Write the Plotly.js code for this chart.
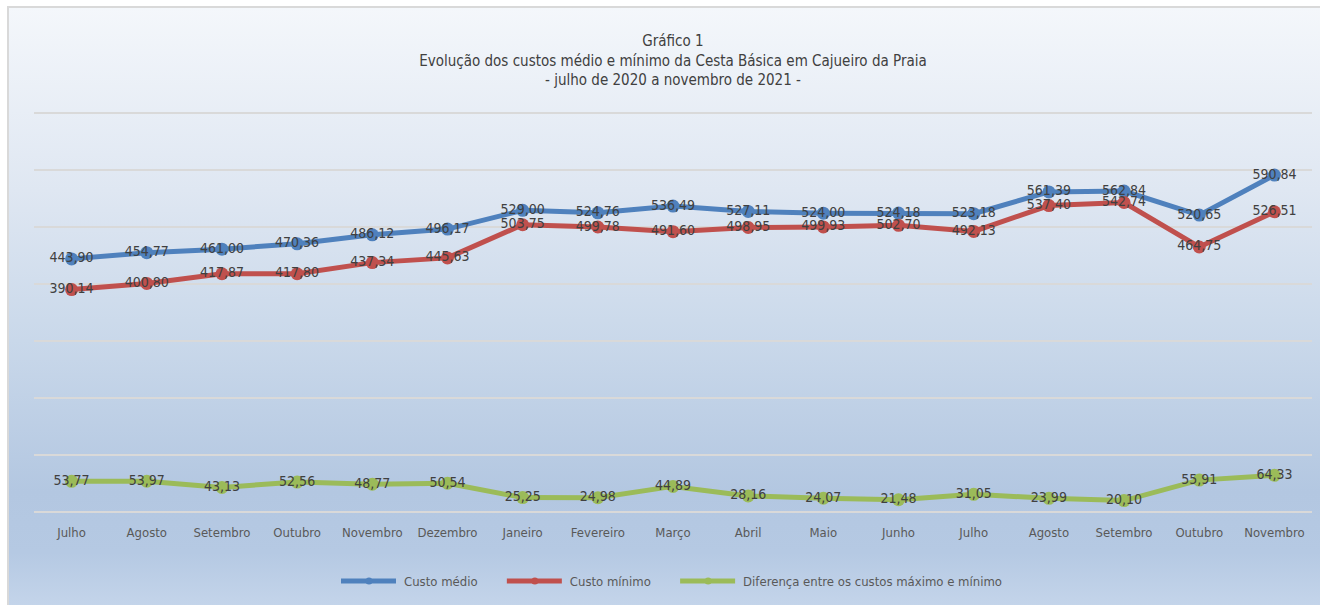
<!DOCTYPE html>
<html>
<head>
<meta charset="utf-8">
<script src="https://cdn.plot.ly/plotly-3.0.1.min.js"></script>
<style>
  html, body { margin: 0; padding: 0; background: #ffffff; width: 1320px; height: 605px; overflow: hidden; }
  #wrap {
    position: absolute; left: 7px; top: 6px; width: 1313px; height: 605px;
    border-left: 2px solid #d9d9d9; border-top: 2px solid #d9d9d9;
    background: linear-gradient(to bottom, #f4f7fb 0%, #dfe7f2 30%, #c9d8ea 55%, #b3c7e1 80%, #b5c9e3 90%, #c6d6eb 100%);
  }
  #chart { width: 1311px; height: 603px; }
</style>
</head>
<body>
<div id="wrap"><div id="chart"></div></div>
<script>
const meses = ["Julho","Agosto","Setembro","Outubro","Novembro","Dezembro","Janeiro","Fevereiro","Março","Abril","Maio","Junho","Julho","Agosto","Setembro","Outubro","Novembro"];
const custoMedio = [443.90,454.77,461.00,470.36,486.12,496.17,529.00,524.76,536.49,527.11,524.00,524.18,523.18,561.39,562.84,520.65,590.84];
const custoMinimo = [390.14,400.80,417.87,417.80,437.34,445.63,503.75,499.78,491.60,498.95,499.93,502.70,492.13,537.40,542.74,464.75,526.51];
const diferenca = [53.77,53.97,43.13,52.56,48.77,50.54,25.25,24.98,44.89,28.16,24.07,21.48,31.05,23.99,20.10,55.91,64.33];
const nomes = ['Custo médio', 'Custo mínimo', 'Diferença entre os custos máximo e mínimo'];
const cores = ['#4f81bd', '#c0504d', '#9bbb59'];

const xIdx = meses.map((_, i) => i);
const fmt = v => v.toFixed(2).replace('.', ',');
const FONT = '"DejaVu Sans Condensed", "Liberation Sans Narrow", sans-serif';
const PAD = '\u00a0\u00a0\u00a0\u00a0\u00a0\u00a0';

function serie(name, y, color) {
  return {
    type: 'scatter', mode: 'lines+markers+text', name: name,
    x: xIdx, y: y,
    text: y.map(fmt), textposition: 'middle center',
    textfont: { family: FONT, size: 14, color: '#404040' },
    line: { color: color, width: 5 },
    marker: { color: color, size: 13 },
    cliponaxis: false, showlegend: false,
    hoverinfo: 'skip'
  };
}
function legendItem(name, color) {
  return {
    type: 'scatter', mode: 'lines+markers', name: name,
    x: [null], y: [null],
    line: { color: color, width: 5 },
    marker: { color: color, size: 7 },
    showlegend: true, hoverinfo: 'skip'
  };
}

const series = [custoMedio, custoMinimo, diferenca];
const data = series.map((s, i) => serie(nomes[i], s, cores[i]))
  .concat(nomes.map((n, i) => legendItem(i < 2 ? n + PAD : n, cores[i])));

const layout = {
  width: 1311, height: 603,
  paper_bgcolor: 'rgba(0,0,0,0)', plot_bgcolor: 'rgba(0,0,0,0)',
  margin: { l: 25, r: 8, t: 102, b: 99 },
  font: { family: FONT, color: '#595959' },
  title: {
    text: 'Gráfico 1<br>Evolução dos custos médio e mínimo da Cesta Básica em Cajueiro da Praia<br>- julho de 2020 a novembro de 2021 -',
    font: { family: FONT, size: 15, color: '#404040' },
    x: 0.5, xref: 'paper', xanchor: 'center',
    y: 1 - 38 / 603, yref: 'container', yanchor: 'top'
  },
  xaxis: {
    range: [-0.5, 16.5], tickmode: 'array', tickvals: xIdx, ticktext: meses,
    tickfont: { family: FONT, size: 13, color: '#595959' },
    showgrid: false, zeroline: false, showline: false, ticks: '',
    ticklabelstandoff: 11, fixedrange: true
  },
  yaxis: {
    range: [0, 705], dtick: 100, tick0: 0, showticklabels: false,
    showgrid: true, gridcolor: '#d9d9d9', gridwidth: 1.5,
    zeroline: true, zerolinecolor: '#d9d9d9', zerolinewidth: 1.5,
    showline: false, ticks: '', fixedrange: true
  },
  showlegend: true,
  legend: {
    orientation: 'h', x: 0.5, xanchor: 'center', xref: 'paper',
    y: (603 - 573) / 603, yref: 'container', yanchor: 'middle',
    font: { family: FONT, size: 13, color: '#595959' },
    bgcolor: 'rgba(0,0,0,0)', itemwidth: 55, traceorder: 'normal'
  }
};

Plotly.newPlot('chart', data, layout, { displayModeBar: false, staticPlot: true }).then(() => {
  document.querySelectorAll('.legend .legendlines path').forEach(p => p.setAttribute('d', 'M2,0h55'));
  document.querySelectorAll('.legend .legendpoints path').forEach(p => {
    p.setAttribute('transform', 'translate(30,0)');
  });
});
</script>
</body>
</html>
